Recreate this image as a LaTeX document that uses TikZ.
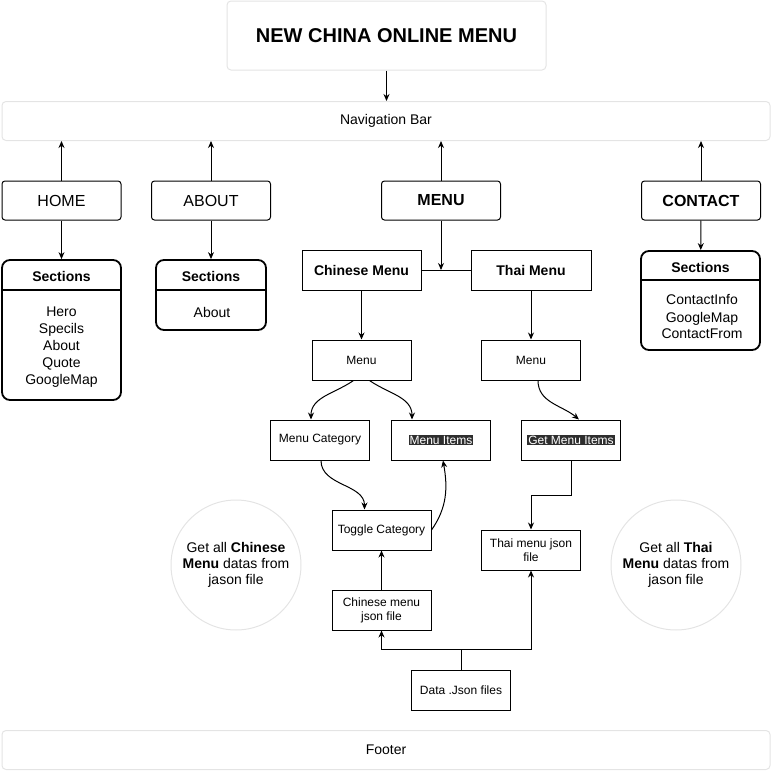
\documentclass[tikz,border=0pt]{standalone}
\usepackage{fontspec}
\setmainfont{Liberation Sans}
\usetikzlibrary{arrows.meta}

\definecolor{lightline}{HTML}{E4E4E4}
\definecolor{hlback}{HTML}{2E2E2E}

\tikzset{
  arr/.style={-{Stealth[length=7pt,width=6pt]}},
  soft/.style={draw=lightline,rounded corners=4pt,align=center},
  page/.style={draw,rounded corners=3pt,minimum width=119pt,minimum height=39pt,font=\fontsize{16}{19}\selectfont},
  plain/.style={draw,minimum width=99pt,minimum height=40pt,align=center,font=\fontsize{12}{14}\selectfont},
  sect/.style={draw,line width=1.8pt,rounded corners=8pt},
  head/.style={font=\fontsize{14}{16}\bfseries},
  body/.style={align=center,font=\fontsize{14}{17}\selectfont},
  note/.style={draw=lightline,circle,minimum size=130pt,align=center,font=\fontsize{14}{16}\selectfont}
}
\newcommand{\hltext}[1]{{\setlength{\fboxsep}{1pt}\colorbox{hlback}{\textcolor{white}{#1}}}}

\begin{document}
\begin{tikzpicture}[x=1pt,y=-1pt,line width=1pt]
\useasboundingbox (0,0) rectangle (772,771);

\node[soft,minimum width=319pt,minimum height=69pt,font=\fontsize{20}{24}\bfseries] (title) at (386.5,35.5) {NEW CHINA ONLINE MENU};
\node[soft,minimum width=768pt,minimum height=39pt,font=\fontsize{14}{16}\selectfont] (nav) at (386,121) {Navigation Bar};

\node[page] (home) at (61.5,200.5) {HOME};
\node[page] (about) at (211,200.5) {ABOUT};
\node[page,font=\fontsize{16}{19}\bfseries] (menu) at (441,200.5) {MENU};
\node[page,font=\fontsize{16}{19}\bfseries] (contact) at (701,200.5) {CONTACT};

% sections
\node[sect,minimum width=119pt,minimum height=140pt] (homesec) at (61.5,330) {};
\node[head] (homehead) at (61.5,276) {Sections};
\draw[line width=1.5pt] (2,290) -- (121,290);
\node[body] (homebody) at (61.5,347) {Hero\\Specils\\About\\Quote\\GoogleMap};

\node[sect,minimum width=110pt,minimum height=70pt] (aboutsec) at (211,295) {};
\node[head] (abouthead) at (211,276) {Sections};
\draw[line width=1.5pt] (156,290) -- (266,290);
\node[body] (aboutbody) at (212,312) {About};

\node[sect,minimum width=119pt,minimum height=99pt] (contactsec) at (700.5,300.5) {};
\node[head] (contacthead) at (700.5,267) {Sections};
\draw[line width=1.5pt] (641,280) -- (760,280);
\node[body] (contactbody) at (702,317) {ContactInfo\\GoogleMap\\ContactFrom};

% menu part
\node[plain,minimum width=119pt,font=\fontsize{14}{16}\bfseries] (chinese) at (361.5,270) {Chinese Menu};
\node[plain,minimum width=120pt,font=\fontsize{14}{16}\bfseries] (thai) at (531,270) {Thai Menu};
\coordinate (jn) at (441,270);

\node[plain] (cmenu) at (361.5,360) {Menu};
\node[plain] (tmenu) at (531,360) {Menu};
\node[plain] (mcat) at (320,440) {Menu Category};
\node[plain] (mitems) at (441,440) {\hltext{Menu Items}};
\node[plain] (getitems) at (571,440) {\hltext{Get Menu Items}};
\node[plain] (toggle) at (381.5,530) {Toggle Category};
\node[plain] (thaijson) at (531,550) {Thai menu json\\file};
\node[plain] (chinajson) at (381.5,610) {Chinese menu\\json file};
\node[plain] (data) at (461,690) {Data .Json files};

\node[note] (cnote) at (236,565) {Get all \textbf{Chinese}\\\textbf{Menu} datas from\\jason file};
\node[note] (tnote) at (676,565) {Get all \textbf{Thai}\\\textbf{Menu} datas from\\jason file};

\node[soft,minimum width=768pt,minimum height=39pt,font=\fontsize{14}{16}\selectfont] (footer) at (386,750) {Footer};

% arrows
\draw[arr] (title.south) -- (title.south |- nav.north);
\draw[arr] (home.north) -- (home.north |- nav.south);
\draw[arr] (about.north) -- (about.north |- nav.south);
\draw[arr] (menu.north) -- (menu.north |- nav.south);
\draw[arr] (contact.north) -- (contact.north |- nav.south);
\draw[arr] (home) -- (homesec);
\draw[arr] (about) -- (aboutsec);
\draw[arr] (contact) -- (contactsec);

\draw[arr] (menu) -- (jn);
\draw (chinese) -- (thai);
\draw[arr] (chinese) -- (cmenu);
\draw[arr] (thai) -- (tmenu);
\draw[arr] ([xshift=-8pt]cmenu.south) to[out=-145,in=90] ([xshift=-9pt]mcat.north);
\draw[arr] ([xshift=8pt]cmenu.south) to[out=-35,in=90] ([xshift=-29pt]mitems.north);
\draw[arr] ([xshift=7pt]tmenu.south) to[out=-90,in=140] ([xshift=8pt]getitems.north);
\draw[arr] ([xshift=1pt]mcat.south) to[out=-90,in=90] ([xshift=-17pt]toggle.north);
\draw[arr] (toggle.east) to[out=55,in=-80] ([xshift=2pt]mitems.south);
\draw[arr] (getitems.south) -- ++(0,35) -| (thaijson.north);
\draw[arr] (chinajson) -- (toggle);
\draw[arr] (data.north) -- ++(0,-20) -| (chinajson.south);
\draw[arr] (data.north) -- ++(0,-20) -| (thaijson.south);
\end{tikzpicture}
\end{document}
